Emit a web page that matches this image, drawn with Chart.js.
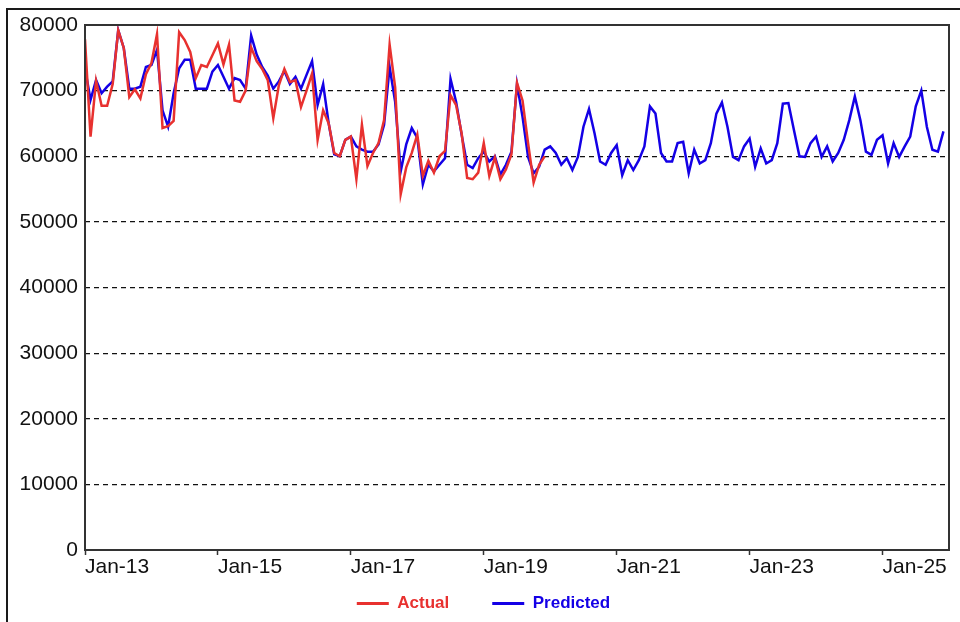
<!DOCTYPE html>
<html>
<head>
<meta charset="utf-8">
<title>Actual vs Predicted</title>
<script src="https://cdn.jsdelivr.net/npm/chart.js@4.4.0/dist/chart.umd.min.js"></script>
<style>
    html, body { margin: 0; padding: 0; background: #fff; overflow: hidden; }
    #wrap { position: relative; width: 960px; height: 622px; }
    #frame { position: absolute; left: 6px; top: 8px; width: 1000px; height: 700px; border: 2px solid #1a1a1a; }
    #chartActualPredicted { position: absolute; left: 0; top: 0; }
</style>
</head>
<body>
<div id="wrap">
    <div id="frame"></div>
    <canvas id="chartActualPredicted" width="960" height="622"></canvas>
</div>
<script>
// monthly values, Jan-13 onwards
const actual = [
    77800, 63000, 71500, 67700, 67700, 71000, 79200, 76500, 69000, 70200, 68800, 72500,
    74200, 78600, 64300, 64600, 65400, 78900, 77700, 75900, 71900, 73900, 73600, 75400,
    77200, 74000, 77000, 68500, 68300, 70000, 76600, 74500, 73300, 71600, 65800, 70800,
    73300, 71300, 71600, 67500, 70000, 72600, 62500, 67000, 65000, 60500, 60000, 62500,
    63000, 56500, 64800, 58500, 60500, 62000, 65500, 77000, 70500, 54200, 58300, 60500,
    63300, 57000, 59300, 57500, 60000, 60800, 69300, 67800, 63500, 56700, 56500, 57500,
    62000, 57000, 59800, 56500, 58000, 60300, 71200, 68500, 62000, 56000, 58700, 60000
];
const predicted = [
    73400, 68600, 71600, 69600, 70600, 71400, 79200, 76500, 70300, 70300, 70600, 73600,
    73900, 76200, 67000, 64500, 69600, 73400, 74700, 74700, 70300, 70300, 70300, 72900,
    73900, 72100, 70300, 71900, 71600, 70300, 78400, 75500, 73600, 72300, 70300, 71400,
    73000, 71000, 72100, 70300, 72400, 74500, 67800, 71000, 65000, 60300, 60000, 62500,
    63000, 61500, 61000, 60700, 60700, 61800, 64800, 73600, 68300, 57700, 61800, 64300,
    62800, 55700, 58700, 57700, 58700, 59700, 71800, 68300, 63300, 58700, 58200, 59700,
    60700, 59200, 60000, 57200, 58700, 60700, 71000, 66000, 59900, 57400, 58400, 61000,
    61500, 60500, 58700, 59700, 57900, 59900, 64500, 67200, 63500, 59200, 58700, 60500,
    61700, 57100, 59400, 57900, 59400, 61500, 67600, 66500, 60500, 59200, 59200, 62000,
    62200, 57400, 61000, 58900, 59400, 62000, 66500, 68200, 64500, 59900, 59400, 61500,
    62700, 58400, 61200, 58900, 59400, 62000, 68000, 68100, 64000, 60000, 59900, 62000,
    63000, 59900, 61500, 59200, 60500, 62500, 65500, 69100, 65500, 60700, 60200, 62500,
    63200, 58900, 62000, 59900, 61500, 63000, 67600, 70000, 64500, 61000, 60700, 63800
];
const tickLabels = ["Jan-13", "Jan-15", "Jan-17", "Jan-19", "Jan-21", "Jan-23", "Jan-25"];
const seriesNames = ["Actual", "Predicted"];
const lineColors = ["#E8312F", "#1400E6"];

const fontFamily = "'Liberation Sans', Arial, sans-serif";

// box round the plot area
const plotBox = {
    id: 'plotBox',
    afterDatasetsDraw(chart) {
        const a = chart.chartArea;
        const ctx = chart.ctx;
        ctx.save();
        ctx.strokeStyle = '#333';
        ctx.lineWidth = 2;
        ctx.strokeRect(a.left, a.top, a.right - a.left, a.bottom - a.top);
        ctx.restore();
    }
};

new Chart("chartActualPredicted", {
    type: "line",
    data: {
        datasets: [{
            label: seriesNames[0],
            data: actual.map((v, i) => ({ x: i, y: v })),
            borderColor: lineColors[0],
            backgroundColor: lineColors[0],
            borderWidth: 2.5,
            pointRadius: 0,
            tension: 0,
            fill: false
        }, {
            label: seriesNames[1],
            data: predicted.map((v, i) => ({ x: i, y: v })),
            borderColor: lineColors[1],
            backgroundColor: lineColors[1],
            borderWidth: 2.5,
            pointRadius: 0,
            tension: 0,
            fill: false
        }]
    },
    options: {
        responsive: false,
        animation: false,
        devicePixelRatio: 1,
        layout: {
            padding: { top: 25, right: 11, left: 18, bottom: 0 }
        },
        plugins: {
            tooltip: { enabled: false },
            legend: {
                position: 'bottom',
                labels: {
                    boxWidth: 32,
                    boxHeight: 3,
                    padding: 43,
                    font: { family: fontFamily, size: 17, weight: 'bold' },
                    generateLabels(chart) {
                        return Chart.defaults.plugins.legend.labels.generateLabels(chart).map(item => {
                            item.lineWidth = 0;
                            item.fontColor = lineColors[item.datasetIndex];
                            return item;
                        });
                    }
                }
            }
        },
        scales: {
            x: {
                type: 'linear',
                min: 0,
                max: 156,
                grid: { drawOnChartArea: false, drawTicks: true, tickLength: 5, tickColor: '#333', tickWidth: 1.5 },
                border: { display: false },
                ticks: {
                    stepSize: 24,
                    includeBounds: false,
                    align: 'start',
                    // mirrored with a negative padding so the labels sit under the axis
                    mirror: true,
                    padding: -30,
                    maxRotation: 0,
                    autoSkip: false,
                    color: '#111',
                    font: { family: fontFamily, size: 21 },
                    callback: v => tickLabels[v / 24]
                },
                afterFit(scale) {
                    scale.height = 2;
                    scale.paddingLeft = 0;
                    scale.paddingRight = 0;
                }
            },
            y: {
                min: 0,
                max: 80000,
                grid: {
                    drawTicks: false,
                    lineWidth: 1.2,
                    color: c => (c.tick.value === 0 || c.tick.value === 80000) ? 'rgba(0,0,0,0)' : '#111'
                },
                border: { display: false, dash: [5, 4] },
                ticks: {
                    stepSize: 10000,
                    padding: 7,
                    color: '#111',
                    font: { family: fontFamily, size: 21 },
                    callback: v => String(v)
                },
                afterFit(scale) {
                    scale.width = 67;
                }
            }
        }
    },
    plugins: [plotBox]
});
</script>
</body>
</html>
